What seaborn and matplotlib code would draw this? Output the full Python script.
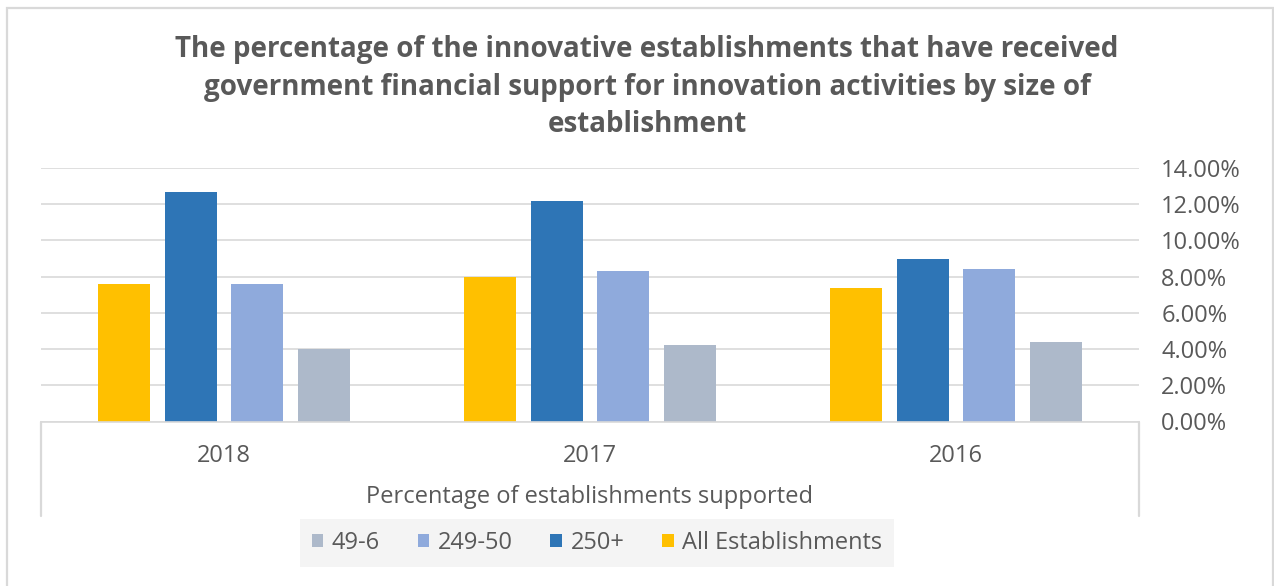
import matplotlib
matplotlib.use("Agg")
import matplotlib.pyplot as plt
from matplotlib.patches import Patch, Rectangle
from matplotlib.lines import Line2D
from matplotlib.ticker import PercentFormatter
import seaborn as sns
import pandas as pd

# Data
years = ["2018", "2017", "2016"]
series = ["All Establishments", "250+", "249-50", "49-6"]
all_establishments = [7.6, 8.0, 7.4]
size_250_plus = [12.7, 12.2, 9.0]
size_249_50 = [7.6, 8.3, 8.4]
size_49_6 = [4.0, 4.2, 4.4]
colors = ["#FFC000", "#2E75B6", "#8FAADC", "#ADB9CA"]
legend_order = ["49-6", "249-50", "250+", "All Establishments"]
title = ("The percentage of the innovative establishments that have received\n"
         "government financial support for innovation activities by size of\n"
         "establishment")
x_title = "Percentage of establishments supported"

values = [all_establishments, size_250_plus, size_249_50, size_49_6]
df = pd.DataFrame(
    [(y, s, v[i]) for s, v in zip(series, values) for i, y in enumerate(years)],
    columns=["year", "size", "pct"],
)

sns.set_theme(style="white")
plt.rcParams["font.family"] = ["Open Sans", "DejaVu Sans"]
text_color = "#595959"
grid_color = "#D9D9D9"

W, H = 1274, 586
fig = plt.figure(figsize=(W / 100, H / 100), dpi=100)
fig.patch.set_facecolor("white")

left, right = 41, 1139
y0, ytop = 421.5, 168
ax = fig.add_axes([left / W, (H - y0) / H, (right - left) / W, (y0 - ytop) / H])

sns.barplot(
    data=df, x="year", y="pct", hue="size", order=years, hue_order=series,
    palette=colors, width=0.727, gap=0.22, saturation=1, ax=ax, legend=False,
    edgecolor="none",
)

ax.set_ylim(0, 14)
ax.set_xlim(-0.5, 2.5)
ax.set_yticks(range(0, 15, 2))
ax.yaxis.set_major_formatter(PercentFormatter(decimals=2))
ax.yaxis.tick_right()
ax.yaxis.grid(True, color=grid_color, linewidth=1.2)
ax.set_axisbelow(True)
for s in ["top", "left", "right"]:
    ax.spines[s].set_visible(False)
ax.spines["bottom"].set_color(grid_color)
ax.spines["bottom"].set_linewidth(1.2)
ax.tick_params(axis="y", length=0, pad=16, labelsize=17, labelcolor=text_color)
ax.tick_params(axis="x", length=0, pad=16, labelsize=17, labelcolor=text_color)
ax.set_ylabel("")
ax.set_xlabel(x_title, fontsize=17, color=text_color)
ax.xaxis.set_label_coords(0.5, (y0 - 497) / (y0 - ytop))
ax.xaxis.label.set_va("center")

# Category-axis box sides
depth = (y0 - 515.5) / (y0 - ytop)
for xa in (0, 1):
    ax.add_line(Line2D([xa, xa], [0, depth], transform=ax.transAxes,
                       color=grid_color, linewidth=1.6, clip_on=False))

# Chart area border
fig.add_artist(Rectangle((7 / W, -0.01), (1273 - 7) / W, 1 - 8 / H + 0.01,
                         transform=fig.transFigure, fill=False,
                         edgecolor=grid_color, linewidth=1.6))

fig.text(647 / W, (H - 87) / H, title, ha="center", va="center",
         fontsize=20, fontweight="bold", color=text_color, linespacing=1.37)

color_map = dict(zip(series, colors))
handles = [Patch(facecolor=color_map[s], edgecolor="none") for s in legend_order]
leg = fig.legend(handles, legend_order, loc="center", ncol=4,
                 bbox_to_anchor=(597 / W, (H - 543) / H), frameon=True,
                 fontsize=17, handlelength=0.5, handleheight=0.5,
                 handletextpad=0.35, columnspacing=1.6, borderpad=0.5,
                 labelcolor=text_color)
leg.get_frame().set_facecolor("#F2F2F2")
leg.get_frame().set_edgecolor("none")
leg.get_frame().set_boxstyle("square", pad=0)
fig.canvas.draw()
bb = leg.get_frame().get_bbox()
# widen the legend panel horizontally
extra = (616 - bb.width) / 2
leg.get_frame().set_bounds(bb.x0 - extra, bb.y0, bb.width + 2 * extra, bb.height)

fig.savefig("out.png", dpi=100)
